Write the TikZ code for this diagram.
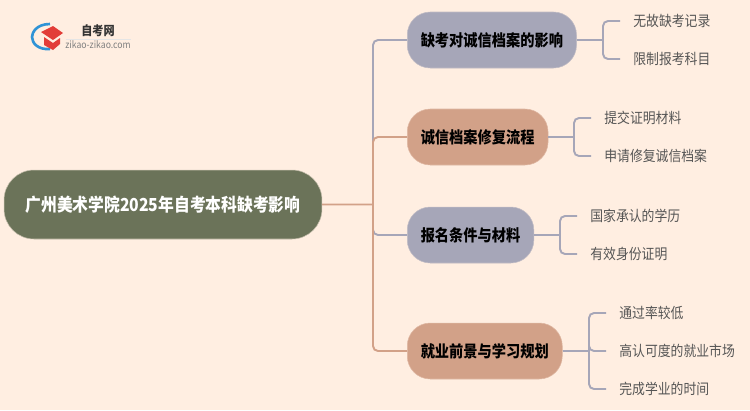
\documentclass[tikz,border=0pt]{standalone}
\usepackage{fontspec}
\setmainfont[FakeStretch=0.88]{Noto Sans CJK SC}
\definecolor{paper}{HTML}{FFEEE1}
\definecolor{rootgreen}{HTML}{6B7359}
\definecolor{slate}{HTML}{A6A6B8}
\definecolor{clay}{HTML}{D2A188}
\definecolor{leaftext}{HTML}{555555}
\definecolor{capred}{HTML}{E23D38}
\definecolor{arcblue}{HTML}{2F93D6}
\tikzset{
    rootbox/.style={fill=rootgreen, draw=rootgreen!40!paper, line width=0.3pt, rounded corners=0.6cm, text=white,
        minimum width=6.36cm, minimum height=1.38cm, font=\fontsize{10.2}{12}\selectfont\bfseries},
    branchbox/.style={fill=#1, draw=#1!70!paper, line width=0.3pt, rounded corners=0.46cm, text=black, anchor=west,
        minimum height=1.12cm, inner xsep=0.27cm, font=\fontsize{9.2}{11}\selectfont\bfseries},
    leafbox/.style={anchor=west, inner xsep=0.26cm, inner ysep=0pt, text=leaftext, font=\fontsize{8.3}{10}\selectfont},
    link/.style={draw=#1, line width=1.1pt, rounded corners=0.1cm},
}
\begin{document}
\begin{tikzpicture}[x=0.02cm,y=-0.02cm]
\path[fill=paper] (0,0) rectangle (750,410);
\useasboundingbox (0,0) rectangle (750,410);

% logo
\draw[arcblue, line width=1.5pt] (50,24) .. controls (36,24) and (32,33) .. (32,37) .. controls (32,43) and (38,50) .. (50,49);
\fill[capred] (41,32) -- (53,26) -- (63,33) -- (53,40) -- cycle;
\fill[capred] (44,37) -- (53,43) -- (60,38) -- (60,44) -- (53,50) -- (44,45) -- cycle;
\node (logoname) at (98,31) [inner sep=0pt, text=black!80, font=\fontsize{7.2}{9}\selectfont\bfseries] {自考网};
\node (logourl) at (98,45) [inner sep=0pt, text=black!50, font=\fontsize{5.6}{7}\selectfont] {zikao-zikao.com};
\draw[black!10, line width=0.3pt] (66,39) -- (131,39);

\node (root) at (163,204.5) [rootbox] {广州美术学院2025年自考本科缺考影响};
\coordinate (trunk) at (373,204.5);

\node (b1) at (407,40) [branchbox=slate] {缺考对诚信档案的影响};
\node (b2) at (407,137) [branchbox=clay] {诚信档案修复流程};
\node (b3) at (407,235) [branchbox=slate] {报名条件与材料};
\node (b4) at (407,351) [branchbox=clay] {就业前景与学习规划};

% slate goes under clay on the trunk
\path[link=slate]
    (trunk) |- (b1.west)
    (trunk) |- (b3.west);
\path[link=clay]
    (root.east) -- (trunk)
    (trunk) |- (b2.west)
    (trunk) |- (b4.west);

\foreach \b/\x/\xfork/\y/\txt in {%
    b1/620/603/21/无故缺考记录,
    b1/620/603/59/限制报考科目,
    b2/591/574/118/提交证明材料,
    b2/591/574/156/申请修复诚信档案,
    b3/577/560/216/国家承认的学历,
    b3/577/560/254/有效身份证明,
    b4/606/589/313/通过率较低,
    b4/606/589/351/高认可度的就业市场,
    b4/606/589/389/完成学业的时间} {%
    \node (leaf\y) at (\x,\y) [leafbox] {\txt};
    \coordinate (fork\y) at (\xfork,0 |- \b.east);
    \path[link=slate] (\b.east) -- (fork\y);
    \path[link=slate] (fork\y) |- (leaf\y.west);
}
\end{tikzpicture}
\end{document}
